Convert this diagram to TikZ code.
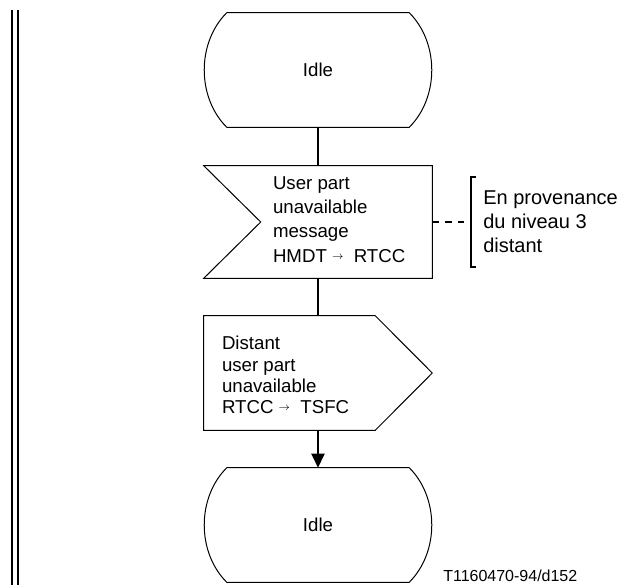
\documentclass[tikz,border=0pt]{standalone}
\usepackage{fontspec}
\setmainfont{Liberation Sans}
\usetikzlibrary{positioning, calc, arrows.meta}
\newcommand{\sigarr}{{\fontsize{8}{8}\selectfont\raisebox{2.3pt}{$\rightarrow$}}}
\tikzset{
	statenode/.style={
			rectangle,
			minimum width=171pt,
			minimum height=85.5pt,
			inner sep=0pt,
			font=\fontsize{14}{17}\selectfont
		},
	signode/.style={
			rectangle,
			minimum width=171pt,
			minimum height=84pt,
			inner sep=0pt
		},
	sigtext/.style={
			inner sep=0pt,
			align=left,
			font=\fontsize{14}{18.2}\selectfont
		},
	notenode/.style={
			inner xsep=9pt,
			inner ysep=0pt,
			minimum height=67.5pt,
			align=left,
			font=\fontsize{15}{18}\selectfont
		},
	outline/.style={
			draw=black,
			line width=0.75pt
		},
	flowline/.style={
			draw=black,
			line width=1.5pt
		}
}

\begin{document}
\begin{tikzpicture}[x=0.75pt, y=-0.75pt]
\useasboundingbox (0,0) rectangle (624,585);
\draw[flowline] (12,10) -- (12,585);
\draw[flowline] (17.5,10) -- (17.5,585);

\node[statenode] (idle1) at (318,70) {Idle};
\node[signode] (inp) at (318,222) {};
\node[signode, minimum height=85.5pt] (outp) at (318,373) {};
\node[statenode] (idle2) at (318,525) {Idle};

\node[sigtext, right=51.75pt of inp.west, yshift=2pt] (inptext) {User part\\unavailable\\message\\HMDT \sigarr\ \ RTCC};
\node[sigtext, font=\fontsize{14}{16}\selectfont, right=13.5pt of outp.west, yshift=-1.5pt] (outtext) {Distant\\user part\\unavailable\\RTCC \sigarr\ \ TSFC};
\node[notenode, anchor=west] (note) at (471,222) {En provenance\\du niveau 3\\distant};
\node[anchor=west, inner sep=0pt, font=\fontsize{12}{14}\selectfont] (credit) at (443,576) {T1160470-94/d152};

\draw[outline] ($(idle1.north west)+(23,0)$) -- ($(idle1.north east)+(-23,0)$)
  .. controls ($(idle1.north east)+(7,30)$) and ($(idle1.south east)+(7,-30)$) .. ($(idle1.south east)+(-23,0)$)
  -- ($(idle1.south west)+(23,0)$)
  .. controls ($(idle1.south west)+(-7,-30)$) and ($(idle1.north west)+(-7,30)$) .. cycle;
\draw[outline] (inp.north west) -- (inp.north east) -- (inp.south east) -- (inp.south west) -- ($(inp.west)+(57,0)$) -- cycle;
\draw[outline] (outp.north west) -- ($(outp.north east)+(-57,0)$) -- (outp.east) -- ($(outp.south east)+(-57,0)$) -- (outp.south west) -- cycle;
\draw[outline] ($(idle2.north west)+(23,0)$) -- ($(idle2.north east)+(-23,0)$)
  .. controls ($(idle2.north east)+(7,30)$) and ($(idle2.south east)+(7,-30)$) .. ($(idle2.south east)+(-23,0)$)
  -- ($(idle2.south west)+(23,0)$)
  .. controls ($(idle2.south west)+(-7,-30)$) and ($(idle2.north west)+(-7,30)$) .. cycle;

\draw[flowline] (idle1) -- (inp);
\draw[flowline] (inp) -- (outp);
\draw[flowline, -{Triangle[length=10.5pt, width=9.75pt]}] (outp) -- (idle2);
\draw[flowline, dash pattern=on 5pt off 4.5pt] (inp.east) -- (note.west);
\draw[flowline] ([xshift=3.75pt]note.north west) -- (note.north west) -- (note.south west) -- ([xshift=3.75pt]note.south west);

\end{tikzpicture}
\end{document}
